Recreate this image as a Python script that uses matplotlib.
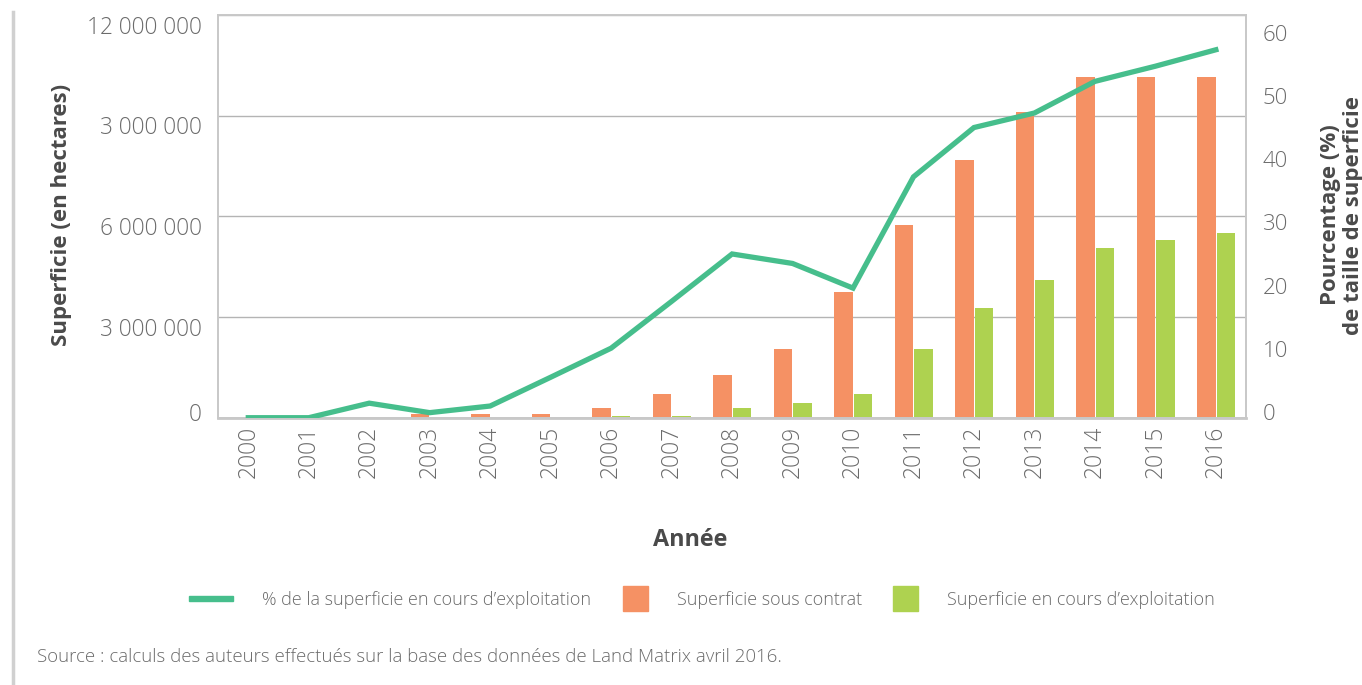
import matplotlib
matplotlib.use("Agg")
import matplotlib.pyplot as plt
import matplotlib.transforms as mtransforms
from matplotlib.lines import Line2D
from matplotlib.patches import Patch, Rectangle
from matplotlib.legend_handler import HandlerPatch
import numpy as np

plt.rcParams['font.family'] = ['Open Sans', 'DejaVu Sans']

# data
years = ['2000', '2001', '2002', '2003', '2004', '2005', '2006', '2007', '2008',
         '2009', '2010', '2011', '2012', '2013', '2014', '2015', '2016']
# hectares under contract
contract = [0, 0, 0, 0.11e6, 0.12e6, 0.11e6, 0.29e6, 0.71e6, 1.27e6,
            2.05e6, 3.74e6, 5.74e6, 7.67e6, 9.12e6, 10.15e6, 10.15e6, 10.15e6]
# hectares being exploited
exploited = [0, 0, 0, 0, 0, 0, 0.05e6, 0.05e6, 0.29e6,
             0.44e6, 0.71e6, 2.05e6, 3.27e6, 4.10e6, 5.06e6, 5.30e6, 5.50e6]
# % of area being exploited
pct = [0, 0, 2.3, 0.8, 1.85, 6.4, 11.0, 18.4, 25.9,
       24.4, 20.5, 38.1, 45.9, 48.2, 53.2, 55.6, 58.2]

left_ticks = [0, 3e6, 6e6, 9e6, 12e6]
left_labels = ['0', '3 000 000', '6 000 000', '3 000 000', '12 000 000']
right_ticks = [0, 10, 20, 30, 40, 50, 60]

c_line = '#46BE8C'
c_orange = '#F59164'
c_green = '#AED250'
c_tick = '#6b6b6b'
c_title = '#4a4a4a'
c_frame = '#c8c8c8'

fig = plt.figure(figsize=(13.62, 6.85), dpi=100)
ax = fig.add_axes([0.1601, 0.3902, 0.7548, 0.5879])
ax2 = ax.twinx()

x = np.arange(len(years))
w = 0.305
ax.bar(x - w / 2 - 0.005, contract, width=w, color=c_orange, zorder=2)
ax.bar(x + w / 2 + 0.012, exploited, width=w, color=c_green, zorder=2)
ax2.plot(x, pct, color=c_line, lw=3.8, solid_joinstyle='miter', zorder=3)

ax.set_xlim(-0.5, len(years) - 0.5)
ax.set_ylim(0, 12e6)
ax2.set_ylim(0, 63.7)

ax.set_yticks(left_ticks)
ax.set_yticklabels(left_labels)
ax.set_xticks(x)
ax.set_xticklabels(years, rotation=90)
ax2.set_yticks(right_ticks)

ax.tick_params(axis='y', length=0, pad=11.5, labelsize=16.3, labelcolor=c_tick)
ax.tick_params(axis='x', length=0, pad=6, labelsize=16.5, labelcolor=c_tick)
ax2.tick_params(axis='y', length=0, pad=12, labelsize=16, labelcolor=c_tick)

for lab in ax.get_yticklabels() + ax.get_xticklabels() + ax2.get_yticklabels():
    lab.set_fontweight('light')

# shift tick labels like in the reference
for lab in ax.get_yticklabels():
    dy = 4 / 72 if lab.get_text() == '0' else -7 / 72
    lab.set_transform(lab.get_transform() + mtransforms.ScaledTranslation(0, dy, fig.dpi_scale_trans))
for lab in ax2.get_yticklabels():
    lab.set_transform(lab.get_transform() + mtransforms.ScaledTranslation(0, 4 / 72, fig.dpi_scale_trans))

ax.yaxis.grid(True, color='#b4b4b4', lw=1, zorder=0)
ax.set_axisbelow(True)
for a in (ax, ax2):
    for s in a.spines.values():
        s.set_color(c_frame)
        s.set_linewidth(1.2)
ax.spines['bottom'].set_linewidth(2)

fig.text(0.0455, 0.686, 'Superficie (en hectares)', rotation=90, ha='center', va='center',
         fontsize=16, fontweight='bold', color=c_title)
fig.text(1342 / 1362, 0.686, 'Pourcentage (%)\nde taille de superficie', rotation=90, ha='center',
         va='center', multialignment='center', fontsize=16, fontweight='bold',
         color=c_title, linespacing=1.1)
fig.text(0.507, 1 - 540 / 685, 'Année', ha='center', va='center', fontsize=16.8,
         fontweight='bold', color=c_title)


# legend keys: a short bar for the line, a small square for the bars
def line_key(legend, orig_handle, xdescent, ydescent, width, height, fontsize):
    lw = 3.6
    return Rectangle((-xdescent, -ydescent + (height - lw) / 2), 32, lw)


def square_key(legend, orig_handle, xdescent, ydescent, width, height, fontsize):
    side = 18
    return Rectangle((-xdescent + (width - side) / 2, -ydescent + (height - side) / 2), side, side)


line_handle = Patch(color=c_line)
orange_handle = Patch(color=c_orange)
green_handle = Patch(color=c_green)
handles = [line_handle, orange_handle, green_handle]
labels = ['% de la superficie en cours d\u2019exploitation', 'Superficie sous contrat',
          'Superficie en cours d\u2019exploitation']
leg = fig.legend(handles, labels, loc='center', bbox_to_anchor=(0.5154, 1 - 600 / 685), ncol=3,
                 frameon=False, fontsize=13, handlelength=3.54, handletextpad=0.54,
                 columnspacing=0.65,
                 handler_map={line_handle: HandlerPatch(patch_func=line_key),
                              orange_handle: HandlerPatch(patch_func=square_key),
                              green_handle: HandlerPatch(patch_func=square_key)})
for t in leg.get_texts():
    t.set_color(c_tick)
    t.set_fontweight('light')

fig.text(37 / 1362, 1 - 657 / 685,
         'Source : calculs des auteurs effectués sur la base des données de Land Matrix avril 2016.',
         ha='left', va='center', fontsize=13.4, color=c_tick, fontweight='light')

# page border line on the left
fig.add_artist(Line2D([13 / 1362, 13 / 1362], [0.0, 1 - 12 / 685], transform=fig.transFigure,
                      color='#d0d0d0', lw=2.5))

fig.savefig('out.png', dpi=100)
